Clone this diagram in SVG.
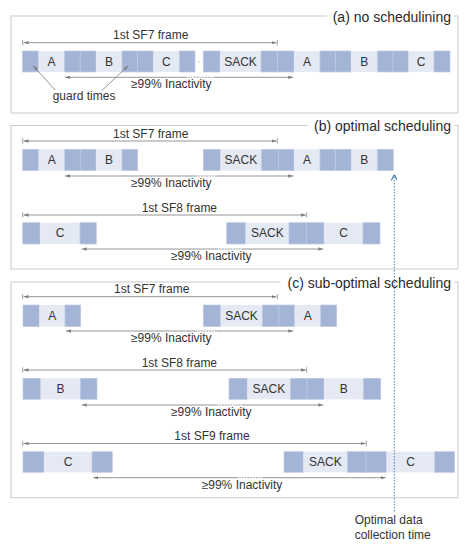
<svg xmlns="http://www.w3.org/2000/svg" width="474" height="546" viewBox="0 0 474 546">
<defs>
<style>
.panel{fill:#fff;stroke:#cacaca;stroke-width:1}
.gap{fill:#fff;stroke:none}
.title{font-family:"Liberation Sans",Arial,sans-serif;font-size:14px;fill:#2b2b2b;text-anchor:end}
.t{font-family:"Liberation Sans",Arial,sans-serif;font-size:12px;fill:#333}
.c{text-anchor:middle}
.d{fill:#a4b4d6;stroke:#bfcae2;stroke-width:0.7}
.l{fill:#e4e9f3;stroke:none}
.ln{stroke:#8a8a8a;stroke-width:0.9;fill:none}
.fr{stroke:#8a8a8a;stroke-width:0.9;fill:none;marker-start:url(#ah);marker-end:url(#ah)}
.tick{stroke:#8a8a8a;stroke-width:0.8}
.dot{stroke:#fff;stroke-width:1.6;stroke-dasharray:1.2 1.6;fill:none}
.gp{stroke:#7a7a7a;stroke-width:0.8;fill:none;marker-end:url(#ah)}
.opt{stroke:#4f7fb3;stroke-width:1;stroke-dasharray:1.5 1.5;fill:none;marker-end:url(#ahb)}
</style>
<marker id="ah" viewBox="0 0 6 4" refX="6" refY="2" markerWidth="5" markerHeight="3.4" markerUnits="userSpaceOnUse" orient="auto-start-reverse"><path d="M0,0 L6,2 L0,4 z" fill="#7f7f7f"/></marker>
<marker id="ahb" viewBox="0 0 6 6" refX="6" refY="3" markerWidth="6" markerHeight="6" markerUnits="userSpaceOnUse" orient="auto"><path d="M0,0 L6,3 L0,6" fill="none" stroke="#4f7fb3" stroke-width="1.2"/></marker>
</defs>
<rect width="474" height="546" fill="#fff"/>

<!-- Panel (a) -->
<g id="panel-a">
<rect class="panel" x="11" y="16" width="447" height="97"/>
<rect class="gap" x="327" y="10" width="127" height="10"/>
<text class="title" x="451" y="21.5">(a) no schedulining</text>
</g>
<g id="row-a">
<rect class="d" x="22.5" y="51" width="16" height="21"/>
<rect class="l" x="38.5" y="51" width="26" height="21"/>
<rect class="d" x="64.5" y="51" width="15.7" height="21"/>
<rect class="d" x="80.2" y="51" width="15.8" height="21"/>
<rect class="l" x="96" y="51" width="26" height="21"/>
<rect class="d" x="122" y="51" width="15.5" height="21"/>
<rect class="d" x="137.5" y="51" width="15.8" height="21"/>
<rect class="l" x="153.3" y="51" width="26" height="21"/>
<rect class="d" x="179.3" y="51" width="15.7" height="21"/>
<line x1="197.5" y1="62" x2="200.5" y2="62" stroke="#c4c4c4" stroke-width="0.8"/>
<rect class="d" x="203.3" y="51" width="16.7" height="21"/>
<rect class="l" x="220" y="51" width="41" height="21"/>
<rect class="d" x="261" y="51" width="16.5" height="21"/>
<rect class="d" x="277.5" y="51" width="16.5" height="21"/>
<rect class="l" x="294" y="51" width="26" height="21"/>
<rect class="d" x="320" y="51" width="15.7" height="21"/>
<rect class="d" x="335.7" y="51" width="15.3" height="21"/>
<rect class="l" x="351" y="51" width="26.3" height="21"/>
<rect class="d" x="377.3" y="51" width="15.7" height="21"/>
<rect class="d" x="393" y="51" width="15.5" height="21"/>
<rect class="l" x="408.5" y="51" width="25.5" height="21"/>
<rect class="d" x="434" y="51" width="16" height="21"/>
<text class="t c" x="51.5" y="65.7">A</text>
<text class="t c" x="109" y="65.7">B</text>
<text class="t c" x="166.3" y="65.7">C</text>
<text class="t c" x="240.5" y="65.7">SACK</text>
<text class="t c" x="307" y="65.7">A</text>
<text class="t c" x="364.2" y="65.7">B</text>
<text class="t c" x="421.2" y="65.7">C</text>
<text class="t" x="113" y="39">1st SF7 frame</text>
<text class="t" x="131" y="88">≥99% Inactivity</text>
<text class="t" x="52.7" y="100">guard times</text>
</g>

<!-- Panel (b) -->
<g id="panel-b">
<rect class="panel" x="11" y="125.5" width="447" height="143.5"/>
<rect class="gap" x="307.5" y="119" width="147" height="10"/>
<text class="title" x="451" y="131">(b) optimal scheduling</text>
</g>
<g id="row-b1">
<rect class="d" x="22.7" y="149.3" width="16" height="21.3"/>
<rect class="l" x="38.7" y="149.3" width="26" height="21.3"/>
<rect class="d" x="64.7" y="149.3" width="15.6" height="21.3"/>
<rect class="d" x="80.3" y="149.3" width="15.7" height="21.3"/>
<rect class="l" x="96" y="149.3" width="26" height="21.3"/>
<rect class="d" x="122" y="149.3" width="15.7" height="21.3"/>
<rect class="d" x="203.3" y="149.3" width="17.2" height="21.3"/>
<rect class="l" x="220.5" y="149.3" width="40.8" height="21.3"/>
<rect class="d" x="261.3" y="149.3" width="17" height="21.3"/>
<rect class="d" x="278.3" y="149.3" width="15.7" height="21.3"/>
<rect class="l" x="294" y="149.3" width="26" height="21.3"/>
<rect class="d" x="320" y="149.3" width="15.7" height="21.3"/>
<rect class="d" x="335.7" y="149.3" width="15.6" height="21.3"/>
<rect class="l" x="351.3" y="149.3" width="26" height="21.3"/>
<rect class="d" x="377.3" y="149.3" width="16" height="21.3"/>
<text class="t c" x="51.7" y="164">A</text>
<text class="t c" x="109" y="164">B</text>
<text class="t c" x="240.9" y="164">SACK</text>
<text class="t c" x="307" y="164">A</text>
<text class="t c" x="364.3" y="164">B</text>
<text class="t" x="113" y="137.7">1st SF7 frame</text>
<text class="t" x="131" y="186.5">≥99% Inactivity</text>
</g>
<g id="row-b2">
<rect class="d" x="22.7" y="222.7" width="17.3" height="21.3"/>
<rect class="l" x="40" y="222.7" width="40" height="21.3"/>
<rect class="d" x="80" y="222.7" width="16.3" height="21.3"/>
<rect class="d" x="226.7" y="222.7" width="19" height="21.3"/>
<rect class="l" x="245.7" y="222.7" width="43.3" height="21.3"/>
<rect class="d" x="289" y="222.7" width="17.3" height="21.3"/>
<rect class="d" x="306.3" y="222.7" width="17.7" height="21.3"/>
<rect class="l" x="324" y="222.7" width="39" height="21.3"/>
<rect class="d" x="363" y="222.7" width="17" height="21.3"/>
<text class="t c" x="60" y="237.4">C</text>
<text class="t c" x="267.3" y="237.4">SACK</text>
<text class="t c" x="343.5" y="237.4">C</text>
<text class="t" x="141.7" y="211.5">1st SF8 frame</text>
<text class="t" x="171" y="260">≥99% Inactivity</text>
</g>

<!-- Panel (c) -->
<g id="panel-c">
<rect class="panel" x="11" y="282" width="447" height="215.7"/>
<rect class="gap" x="280.5" y="275" width="174" height="10"/>
<text class="title" x="451" y="287.5">(c) sub-optimal scheduling</text>
</g>
<g id="row-c1">
<rect class="d" x="23" y="305" width="16.3" height="21.5"/>
<rect class="l" x="39.3" y="305" width="25.7" height="21.5"/>
<rect class="d" x="65" y="305" width="15.7" height="21.5"/>
<rect class="d" x="203.3" y="305" width="17.4" height="21.5"/>
<rect class="l" x="220.7" y="305" width="41.6" height="21.5"/>
<rect class="d" x="262.3" y="305" width="16.7" height="21.5"/>
<rect class="d" x="279" y="305" width="15.7" height="21.5"/>
<rect class="l" x="294.7" y="305" width="26" height="21.5"/>
<rect class="d" x="320.7" y="305" width="16" height="21.5"/>
<text class="t c" x="52.2" y="320">A</text>
<text class="t c" x="241.5" y="320">SACK</text>
<text class="t c" x="307.7" y="320">A</text>
<text class="t" x="114" y="293.3">1st SF7 frame</text>
<text class="t" x="131" y="341.5">≥99% Inactivity</text>
</g>
<g id="row-c2">
<rect class="d" x="23" y="378.3" width="17.7" height="21"/>
<rect class="l" x="40.7" y="378.3" width="39.6" height="21"/>
<rect class="d" x="80.3" y="378.3" width="16.7" height="21"/>
<rect class="d" x="229" y="378.3" width="18.3" height="21"/>
<rect class="l" x="247.3" y="378.3" width="43" height="21"/>
<rect class="d" x="290.3" y="378.3" width="16.7" height="21"/>
<rect class="d" x="307" y="378.3" width="17" height="21"/>
<rect class="l" x="324" y="378.3" width="39.3" height="21"/>
<rect class="d" x="363.3" y="378.3" width="17.4" height="21"/>
<text class="t c" x="60.5" y="393">B</text>
<text class="t c" x="268.8" y="393">SACK</text>
<text class="t c" x="343.7" y="393">B</text>
<text class="t" x="141.7" y="366.5">1st SF8 frame</text>
<text class="t" x="171" y="415.5">≥99% Inactivity</text>
</g>
<g id="row-c3">
<rect class="d" x="23" y="451.7" width="21" height="20.6"/>
<rect class="l" x="44" y="451.7" width="48" height="20.6"/>
<rect class="d" x="92" y="451.7" width="20.3" height="20.6"/>
<rect class="d" x="284" y="451.7" width="19.3" height="20.6"/>
<rect class="l" x="303.3" y="451.7" width="44" height="20.6"/>
<rect class="d" x="347.3" y="451.7" width="18.7" height="20.6"/>
<rect class="d" x="366" y="451.7" width="20.5" height="20.6"/>
<rect class="l" x="386.5" y="451.7" width="48.2" height="20.6"/>
<rect class="d" x="434.7" y="451.7" width="20" height="20.6"/>
<text class="t c" x="68" y="466.3">C</text>
<text class="t c" x="325.3" y="466.3">SACK</text>
<text class="t c" x="410.6" y="466.3">C</text>
<text class="t" x="174.3" y="439.5">1st SF9 frame</text>
<text class="t" x="201.7" y="488.5">≥99% Inactivity</text>
</g>

<g id="optimal-label">
<text class="t" x="354.7" y="524">Optimal data</text>
<text class="t" x="354.7" y="538.5">collection time</text>
</g>

<!-- Connectors -->
<g id="connectors">
<!-- (a) -->
<line class="fr" x1="23.5" y1="42.7" x2="276.5" y2="42.7"/>
<line class="tick" x1="22.7" y1="40" x2="22.7" y2="45.4"/>
<line class="tick" x1="277.3" y1="40" x2="277.3" y2="45.4"/>
<line class="fr" x1="65" y1="77.3" x2="293.3" y2="77.3"/>
<line class="dot" x1="187" y1="77.3" x2="215" y2="77.3"/>
<line class="gp" x1="55" y1="90" x2="33.3" y2="65.7"/>
<line class="gp" x1="101.7" y1="90.7" x2="128.3" y2="65.7"/>
<!-- (b) -->
<line class="fr" x1="23.5" y1="141" x2="276.5" y2="141"/>
<line class="tick" x1="22.7" y1="138.3" x2="22.7" y2="143.7"/>
<line class="tick" x1="277.3" y1="138.3" x2="277.3" y2="143.7"/>
<line class="fr" x1="65" y1="176" x2="293.3" y2="176"/>
<line class="dot" x1="197" y1="176" x2="217" y2="176"/>
<line class="fr" x1="23.5" y1="215" x2="305.9" y2="215"/>
<line class="tick" x1="22.7" y1="212.3" x2="22.7" y2="217.7"/>
<line class="tick" x1="306.7" y1="212.3" x2="306.7" y2="217.7"/>
<line class="fr" x1="81.7" y1="249" x2="323.3" y2="249"/>
<line class="dot" x1="218" y1="249" x2="242" y2="249"/>
<!-- (c) -->
<line class="fr" x1="23.5" y1="296.7" x2="276.5" y2="296.7"/>
<line class="tick" x1="22.7" y1="294" x2="22.7" y2="299.4"/>
<line class="tick" x1="277.3" y1="294" x2="277.3" y2="299.4"/>
<line class="fr" x1="66" y1="331" x2="293.3" y2="331"/>
<line class="dot" x1="197" y1="331" x2="217" y2="331"/>
<line class="fr" x1="23.5" y1="370" x2="305.9" y2="370"/>
<line class="tick" x1="22.7" y1="367.3" x2="22.7" y2="372.7"/>
<line class="tick" x1="306.7" y1="367.3" x2="306.7" y2="372.7"/>
<line class="fr" x1="81.7" y1="405" x2="323.3" y2="405"/>
<line class="dot" x1="218" y1="405" x2="242" y2="405"/>
<line class="fr" x1="23.5" y1="443.5" x2="365.5" y2="443.5"/>
<line class="tick" x1="22.7" y1="440.8" x2="22.7" y2="446.2"/>
<line class="tick" x1="366.3" y1="440.8" x2="366.3" y2="446.2"/>
<line class="fr" x1="93.3" y1="477.7" x2="385.7" y2="477.7"/>
<line class="dot" x1="238" y1="477.7" x2="263" y2="477.7"/>
<!-- optimal data collection time -->
<line class="opt" x1="394.3" y1="511.5" x2="394.3" y2="174.5"/>
</g>
</svg>
